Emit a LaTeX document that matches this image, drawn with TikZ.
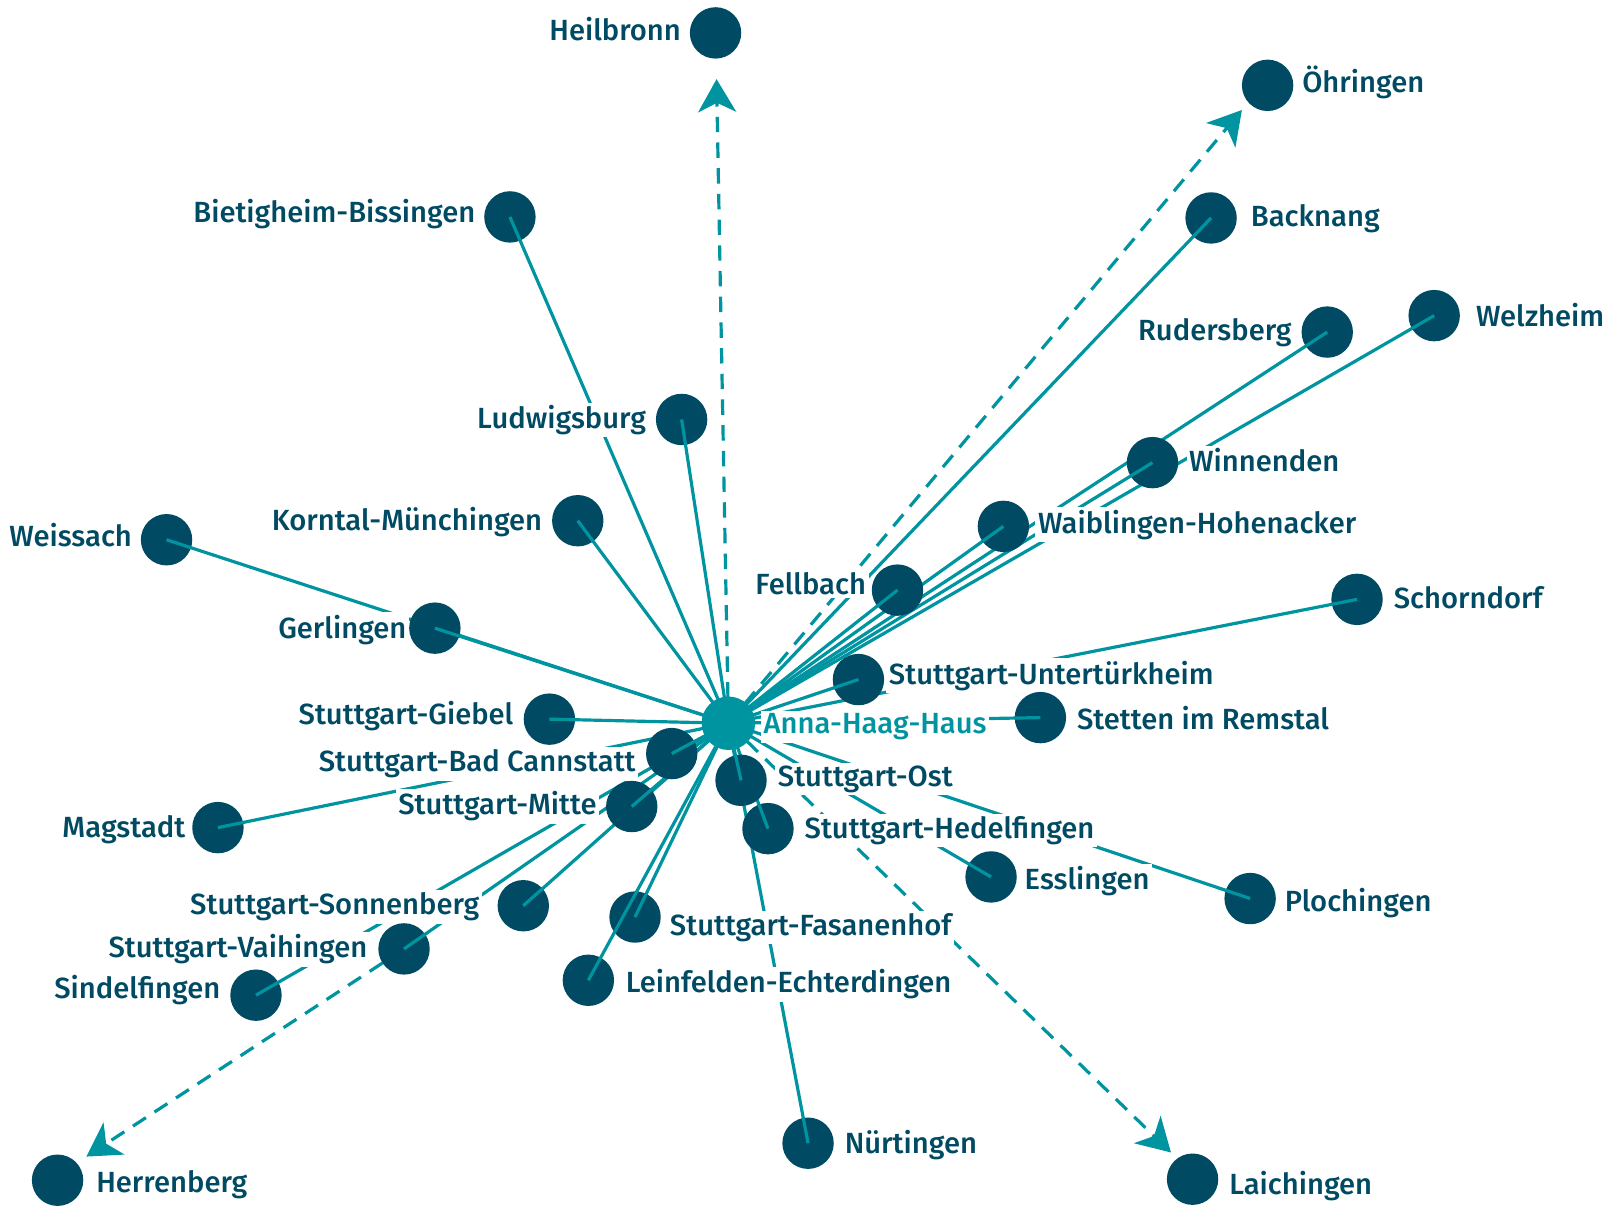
\documentclass[tikz,border=0pt]{standalone}
\usepackage{fontspec}
\setmainfont{Fira Sans Medium}
\usetikzlibrary{calc,arrows.meta}

\definecolor{stopblue}{HTML}{004B63}
\definecolor{routeteal}{HTML}{0094A0}

\pgfdeclarelayer{lines}
\pgfdeclarelayer{labels}
\pgfdeclarelayer{top}
\pgfsetlayers{lines,labels,main,top}

\tikzset{
  stopdot/.style={circle, fill=stopblue, minimum size=50pt, inner sep=0pt, outer sep=0pt},
  hubdot/.style={circle, fill=routeteal, minimum size=52pt, inner sep=0pt, outer sep=0pt},
  link/.style={draw=routeteal, line width=3.1pt},
  farlink/.style={link, dash pattern=on 15pt off 10pt,
    -{Stealth[length=32pt, width=37pt, inset=9pt, fill=routeteal]}},
  placename/.style={fill=white, text=stopblue, inner sep=2.5pt,
    font=\fontsize{28.4}{34}\selectfont},
  namew/.style={placename, anchor=mid west, xshift=-3pt},
  namee/.style={placename, anchor=mid east, xshift=3pt},
}

\begin{document}
\begin{tikzpicture}[x=1pt, y=-1pt]
\useasboundingbox (0,0) rectangle (1568,1173);

% stops
\node[hubdot] (hub) at (708.5,703.5) {};
\node[stopdot] (heilbronn)      at (696,32) {};
\node[stopdot] (oehringen)      at (1233,83) {};
\node[stopdot] (bietigheim)     at (496,211) {};
\node[stopdot] (backnang)       at (1178,212) {};
\node[stopdot] (rudersberg)     at (1291,323) {};
\node[stopdot] (welzheim)       at (1395,307) {};
\node[stopdot] (ludwigsburg)    at (663,408) {};
\node[stopdot] (winnenden)      at (1121,450) {};
\node[stopdot] (korntal)        at (562,506.5) {};
\node[stopdot] (waiblingen)     at (976,512) {};
\node[stopdot] (weissach)       at (162,525) {};
\node[stopdot] (fellbach)       at (873,574) {};
\node[stopdot] (schorndorf)     at (1320,583) {};
\node[stopdot] (gerlingen)      at (423,611) {};
\node[stopdot] (untertuerkheim) at (835,661) {};
\node[stopdot] (giebel)         at (534.4,699.5) {};
\node[stopdot] (stetten)        at (1012,698) {};
\node[stopdot] (cannstatt)      at (653.4,733) {};
\node[stopdot] (ost)            at (720.8,759) {};
\node[stopdot] (mitte)          at (614.5,784.5) {};
\node[stopdot] (magstadt)       at (212,805) {};
\node[stopdot] (hedelfingen)    at (747,806) {};
\node[stopdot] (esslingen)      at (964,853) {};
\node[stopdot] (plochingen)     at (1216,874) {};
\node[stopdot] (sonnenberg)     at (509,881) {};
\node[stopdot] (fasanenhof)     at (617.7,892) {};
\node[stopdot] (vaihingen)      at (393,923) {};
\node[stopdot] (sindelfingen)   at (249,968) {};
\node[stopdot] (leinfelden)     at (572.3,953.5) {};
\node[stopdot] (nuertingen)     at (786,1112) {};
\node[stopdot] (herrenberg)     at (56,1148) {};
\node[stopdot] (laichingen)     at (1160,1147) {};

% arrow tips of the long-distance routes
\coordinate (heilbronn-tip)  at (697,77);
\coordinate (oehringen-tip)  at (1208,107);
\coordinate (herrenberg-tip) at (84,1125);
\coordinate (laichingen-tip) at (1139,1121);

% routes from the hub
\begin{pgfonlayer}{lines}
  \foreach \s in {bietigheim,backnang,rudersberg,welzheim,ludwigsburg,winnenden,
                  korntal,waiblingen,weissach,fellbach,schorndorf,gerlingen,
                  untertuerkheim,giebel,stetten,cannstatt,ost,mitte,magstadt,
                  hedelfingen,esslingen,plochingen,sonnenberg,fasanenhof,
                  vaihingen,sindelfingen,nuertingen}
    \draw[link] (hub.center) -- (\s.center);
  \draw[farlink] (hub.center) -- (heilbronn-tip);
  \draw[farlink] (hub.center) -- (oehringen-tip);
  \draw[farlink] (vaihingen.center) -- (herrenberg-tip);
  \draw[farlink] (hub.center) -- (laichingen-tip);
\end{pgfonlayer}

% place names
\begin{pgfonlayer}{labels}
  \node[namee] (heilbronn-name)      at (662,37)    {Heilbronn};
  \node[namew] (oehringen-name)      at (1267,87)   {Öhringen};
  \node[namee] (bietigheim-name)     at (462,214)   {Bietigheim-Bissingen};
  \node[namew] (backnang-name)       at (1217,218)  {Backnang};
  \node[namee] (rudersberg-name)     at (1256,329)  {Rudersberg};
  \node[namew] (welzheim-name)       at (1436,315)  {Welzheim};
  \node[namee] (ludwigsburg-name)    at (628,414)   {Ludwigsburg};
  \node[namew] (winnenden-name)      at (1157,456)  {Winnenden};
  \node[namee] (korntal-name)        at (527,513)   {Korntal-Münchingen};
  \node[namew] (waiblingen-name)     at (1010,516)  {Waiblingen-Hohenacker};
  \node[namee] (weissach-name)       at (128,529)   {Weissach};
  \node[namee] (fellbach-name)       at (842,576)   {Fellbach};
  \node[namew] (schorndorf-name)     at (1356,589)  {Schorndorf};
  \node[namee] (gerlingen-name)      at (395,618)   {Gerlingen};
  \node[namew] (untertuerkheim-name) at (865,663)   {Stuttgart-Untertürkheim};
  \node[namee] (giebel-name)         at (499,702)   {Stuttgart-Giebel};
  \node[namew, text=routeteal] (hub-name) at (743,711) {Anna-Haag-Haus};
  \node[namew] (stetten-name)        at (1048,707)  {Stetten im Remstal};
  \node[namee] (cannstatt-name)      at (618,748)   {Stuttgart-Bad Cannstatt};
  \node[namew] (ost-name)            at (757,762)   {Stuttgart-Ost};
  \node[namee] (mitte-name)          at (580,790)   {Stuttgart-Mitte};
  \node[namee] (magstadt-name)       at (180,812)   {Magstadt};
  \node[namew] (hedelfingen-name)    at (783,813)   {Stuttgart-Hedelfingen};
  \node[namew] (esslingen-name)      at (997,863)   {Esslingen};
  \node[namew] (plochingen-name)     at (1250,884)  {Plochingen};
  \node[namee] (sonnenberg-name)     at (466,887)   {Stuttgart-Sonnenberg};
  \node[namew] (fasanenhof-name)     at (652,907)   {Stuttgart-Fasanenhof};
  \node[namee] (vaihingen-name)      at (357,929)   {Stuttgart-Vaihingen};
  \node[namee] (sindelfingen-name)   at (214,969)   {Sindelfingen};
  \node[namew] (leinfelden-name)     at (609,963)   {Leinfelden-Echterdingen};
  \node[namew] (nuertingen-name)     at (822,1119)  {Nürtingen};
  \node[namew] (herrenberg-name)     at (94,1157)   {Herrenberg};
  \node[namew] (laichingen-name)     at (1196,1159) {Laichingen};
\end{pgfonlayer}

% each route reaches the centre of its own stop
\begin{pgfonlayer}{top}
  \foreach \s in {bietigheim,backnang,rudersberg,welzheim,ludwigsburg,winnenden,
                  korntal,waiblingen,weissach,fellbach,schorndorf,gerlingen,
                  untertuerkheim,giebel,stetten,cannstatt,ost,mitte,magstadt,
                  hedelfingen,esslingen,plochingen,sonnenberg,fasanenhof,
                  vaihingen,sindelfingen,nuertingen}
    \draw[link] (\s.center) -- ($(\s.center)!25pt!(hub.center)$);
  % the Leinfelden route runs across the Fasanenhof stop
  \draw[link] (hub) -- (leinfelden.center);
\end{pgfonlayer}
\end{tikzpicture}
\end{document}
